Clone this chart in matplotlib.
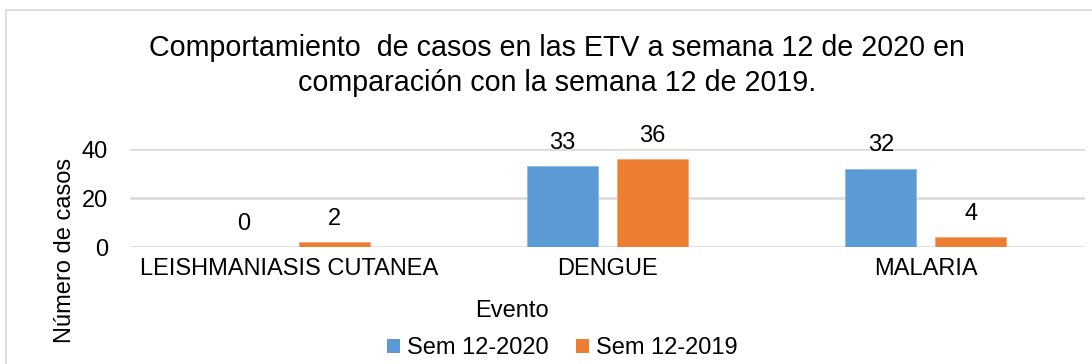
import matplotlib.pyplot as plt
import numpy as np
from matplotlib.patches import Rectangle
from matplotlib.patches import Patch

plt.rcParams['font.family'] = ['Liberation Sans', 'DejaVu Sans']

categories = ["LEISHMANIASIS CUTANEA", "DENGUE", "MALARIA"]
sem_2020 = [0, 33, 32]
sem_2019 = [2, 36, 4]
series_labels = ["Sem 12-2020", "Sem 12-2019"]
yticks = [0, 20, 40]

blue = "#5B9BD5"
orange = "#ED7D31"
grid_col = "#D9D9D9"

fig = plt.figure(figsize=(10.92, 3.64), dpi=100)
# chart area frame
fig.patches.append(Rectangle((6 / 1092, -0.01), 1.1, 1 - 10 / 364 + 0.01,
                             transform=fig.transFigure, fill=False,
                             edgecolor="#D9D9D9", linewidth=1.2))

ax = fig.add_axes([130 / 1092, 1 - 247 / 364, 955 / 1092, 98 / 364])
x = np.arange(len(categories))
w = 0.223
off = 0.1415
b1 = ax.bar(x - off, sem_2020, w, color=blue, edgecolor="#8DBBE6", linewidth=0.6, zorder=3)
b2 = ax.bar(x + off, sem_2019, w, color=orange, edgecolor="#F4A777", linewidth=0.6, zorder=3)

for bars, vals in ((b1, sem_2020), (b2, sem_2019)):
    for r, v in zip(bars, vals):
        ax.text(r.get_x() + r.get_width() / 2, v + 5, str(v), ha="center",
                va="bottom", fontsize=17, color="#000000", clip_on=False)

ax.set_xlim(-0.5, 2.5)
ax.set_ylim(0, 40)
ax.set_yticks(yticks)
ax.set_xticks(x)
ax.set_xticklabels(categories)
ax.tick_params(axis="both", length=0, labelsize=17, colors="#000000")
ax.tick_params(axis="y", pad=16)
ax.tick_params(axis="x", pad=8)
ax.yaxis.grid(True, color=grid_col, linewidth=1.8, zorder=0)
ax.set_axisbelow(True)
for s in ax.spines.values():
    s.set_visible(False)

fig.text(557 / 1092, 1 - 48 / 364, "Comportamiento  de casos en las ETV a semana 12 de 2020 en",
         ha="center", va="center", fontsize=20.6)
fig.text(557 / 1092, 1 - 83 / 364, "comparación con la semana 12 de 2019.",
         ha="center", va="center", fontsize=20.6)

fig.text(65 / 1092, 1 - 250 / 364, "Número de casos", rotation=90,
         ha="center", va="center", fontsize=17)
fig.text(512 / 1092, 1 - 311 / 364, "Evento", ha="center", va="center", fontsize=17)

handles = [Patch(facecolor=blue), Patch(facecolor=orange)]
fig.legend(handles, series_labels, loc="center", bbox_to_anchor=(562 / 1092, 1 - 348 / 364),
           ncol=2, frameon=False, fontsize=17, handlelength=0.55, handleheight=0.55,
           handletextpad=0.3, columnspacing=1.15)

fig.savefig("out.png", dpi=100)
